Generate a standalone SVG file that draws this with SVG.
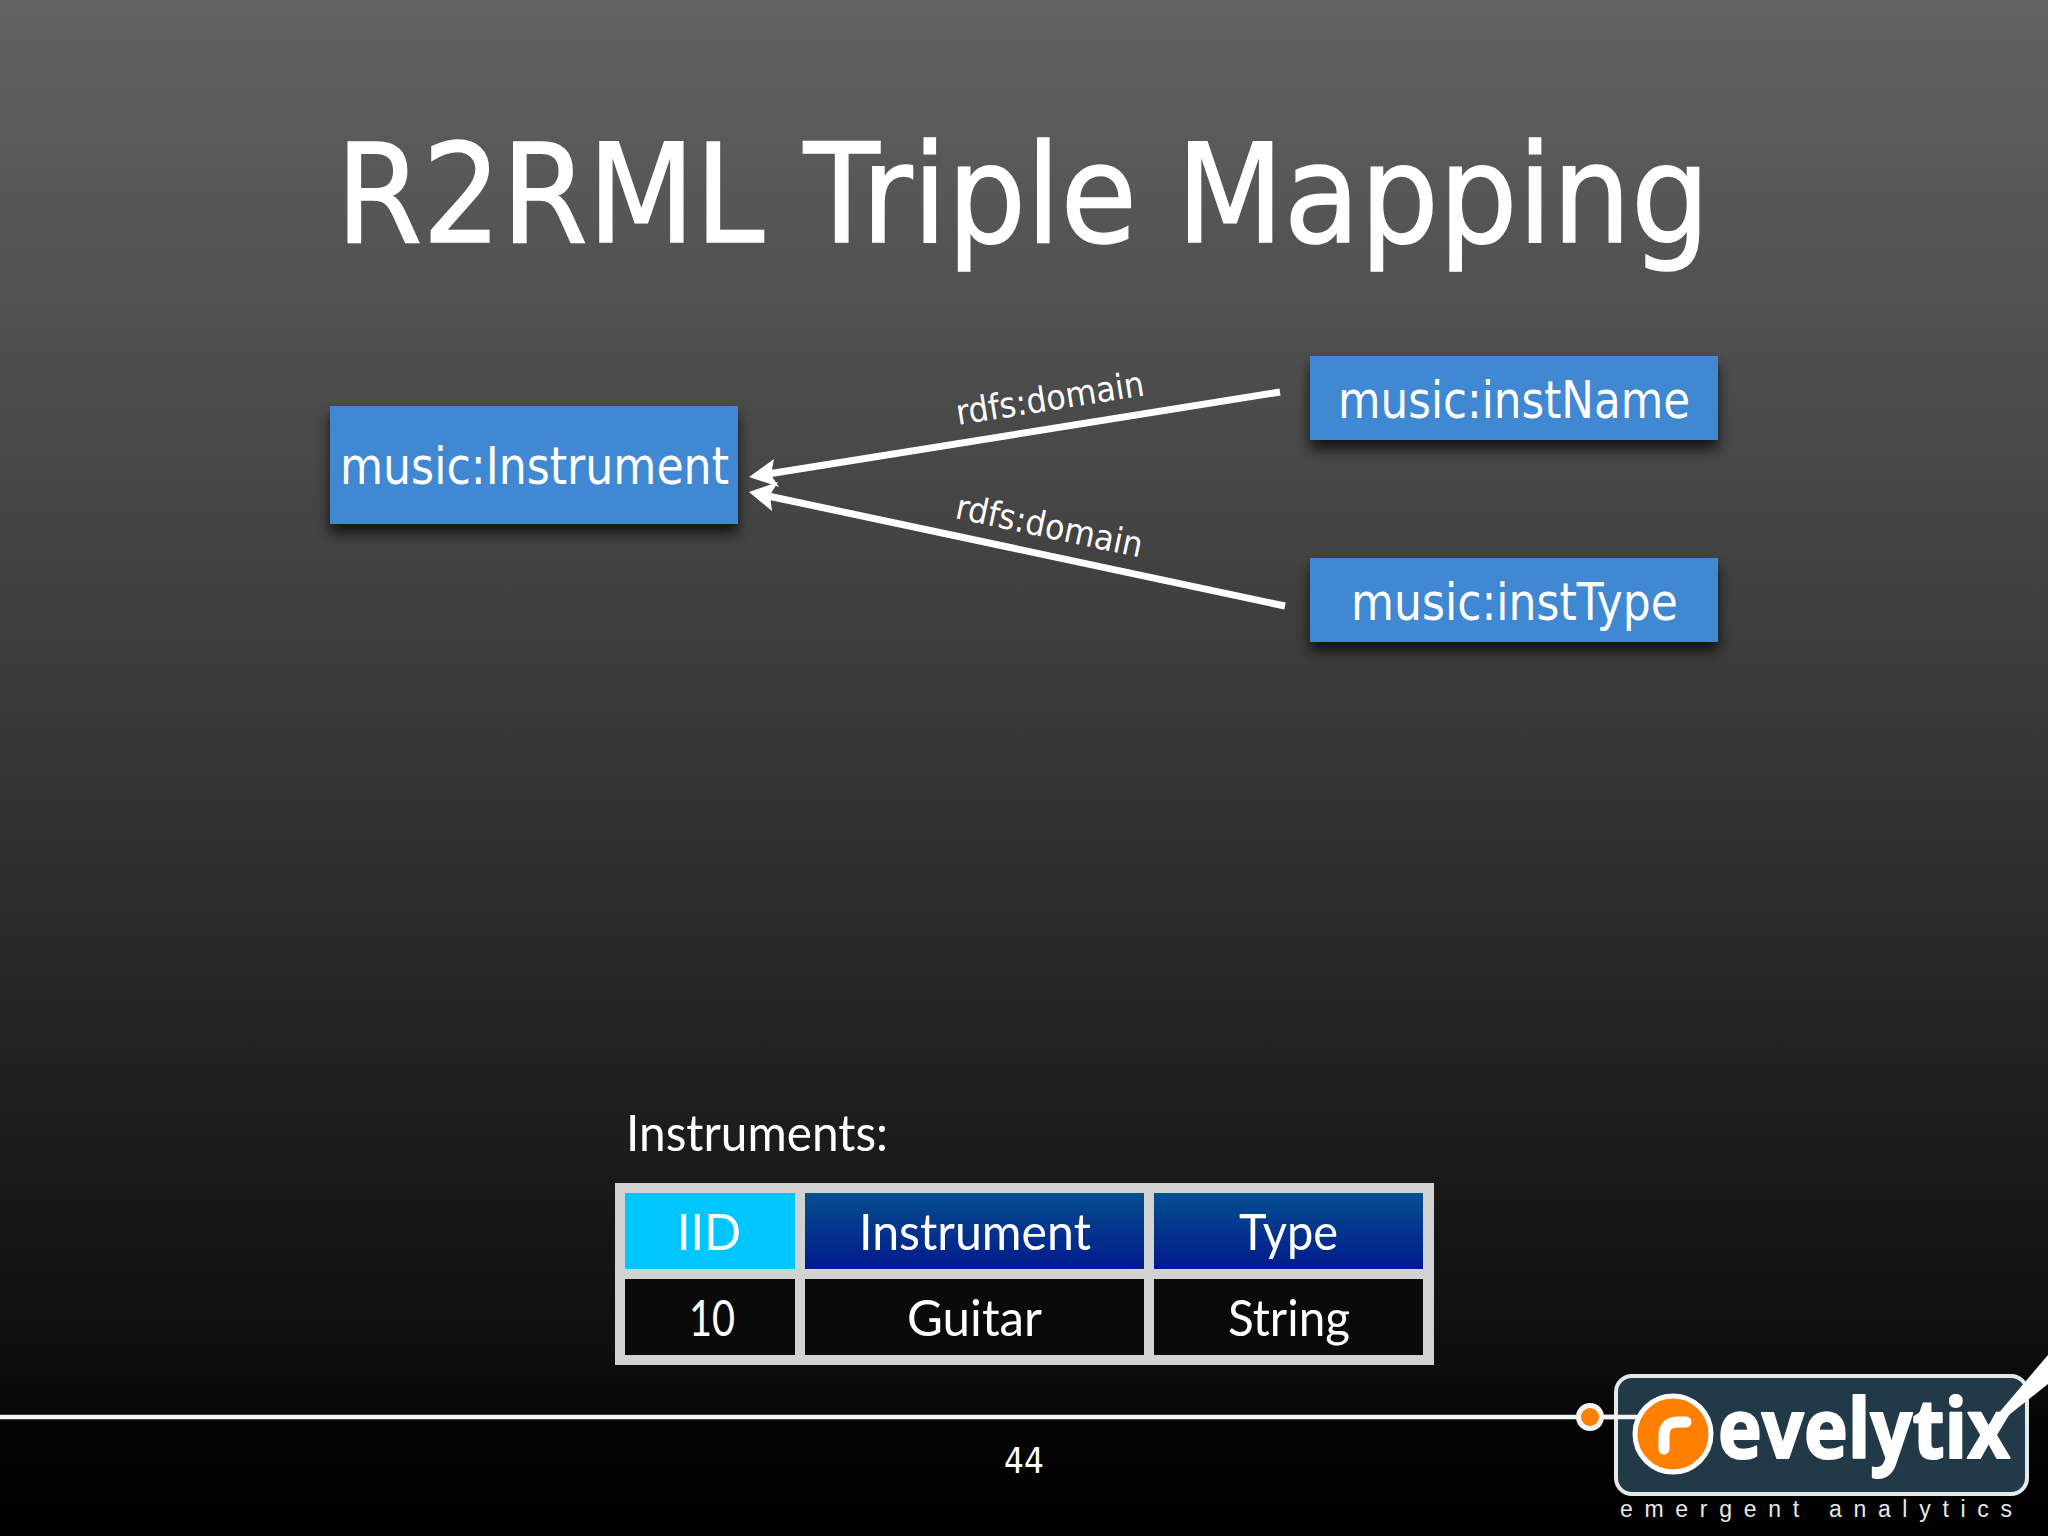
<svg xmlns="http://www.w3.org/2000/svg" width="2048" height="1536" viewBox="0 0 2048 1536">
<style>
.luc{font-family:"DejaVu Sans","Liberation Sans",sans-serif;fill:#fff}
.gill{font-family:"Lato","Liberation Sans",sans-serif;fill:#fff;font-size:50px}
.box{fill:#3f88d2;filter:url(#shadow)}
.cell{fill:#0a0a0a}
.hd{fill:url(#navy)}
.conn{stroke:#fff;stroke-width:7;fill:none}
.head{fill:#fff}
</style>
<defs>
<linearGradient id="bg" x1="0" y1="0" x2="0" y2="1"><stop offset="0" stop-color="#626262"/><stop offset="0.26" stop-color="#4b4b4b"/><stop offset="0.43" stop-color="#3c3c3c"/><stop offset="0.72" stop-color="#1e1e1e"/><stop offset="0.89" stop-color="#0d0d0d"/><stop offset="0.93" stop-color="#040404"/><stop offset="1" stop-color="#000"/></linearGradient>
<linearGradient id="navy" x1="0" y1="0" x2="0" y2="1"><stop offset="0" stop-color="#064f8e"/><stop offset="1" stop-color="#001a8c"/></linearGradient>
<filter id="shadow" x="-10%" y="-30%" width="120%" height="170%"><feDropShadow dx="0" dy="9" stdDeviation="7" flood-color="#000" flood-opacity="0.75"/></filter>
</defs>
<rect width="2048" height="1536" fill="url(#bg)"/>
<text class="luc" x="336" y="242" font-size="138" stroke="#fff" stroke-width="1.5" textLength="1374" lengthAdjust="spacingAndGlyphs">R2RML Triple Mapping</text>
<g id="connectors">
<line class="conn" x1="1280" y1="392" x2="768" y2="474"/>
<polygon class="head" points="749,477 774,459 771,475 779,487"/>
<line class="conn" x1="1285" y1="606" x2="768" y2="496"/>
<polygon class="head" points="749,492 778,482 770,495 772,511"/>
<text class="luc" font-size="35" transform="translate(958,425) rotate(-9)" textLength="190" lengthAdjust="spacingAndGlyphs">rdfs:domain</text>
<text class="luc" font-size="35" transform="translate(954,518) rotate(12)" textLength="190" lengthAdjust="spacingAndGlyphs">rdfs:domain</text>
</g>
<g id="node-instrument">
<rect class="box" x="330" y="406" width="408" height="118"/>
<text class="luc" x="340" y="484" font-size="52" textLength="389" lengthAdjust="spacingAndGlyphs">music:Instrument</text>
</g>
<g id="node-instname">
<rect class="box" x="1310" y="356" width="408" height="84"/>
<text class="luc" x="1338" y="418" font-size="52" textLength="352" lengthAdjust="spacingAndGlyphs">music:instName</text>
</g>
<g id="node-insttype">
<rect class="box" x="1310" y="558" width="408" height="84"/>
<text class="luc" x="1351" y="620" font-size="52" textLength="327" lengthAdjust="spacingAndGlyphs">music:instType</text>
</g>
<g id="table">
<text class="gill" x="626" y="1151" textLength="262" lengthAdjust="spacingAndGlyphs">Instruments:</text>
<rect x="615" y="1183" width="819" height="182" fill="#d2d2d2"/>
<rect x="625" y="1193" width="170" height="76" fill="#00c6ff"/>
<rect class="hd" x="805" y="1193" width="339" height="76"/>
<rect class="hd" x="1154" y="1193" width="269" height="76"/>
<rect class="cell" x="625" y="1279" width="170" height="76"/>
<rect class="cell" x="805" y="1279" width="339" height="76"/>
<rect class="cell" x="1154" y="1279" width="269" height="76"/>
<text class="gill" x="677" y="1250" textLength="64" lengthAdjust="spacingAndGlyphs">IID</text>
<text class="gill" x="859" y="1250" textLength="232" lengthAdjust="spacingAndGlyphs">Instrument</text>
<text class="gill" x="1239" y="1250" textLength="99" lengthAdjust="spacingAndGlyphs">Type</text>
<text class="gill" x="689" y="1336" textLength="46" lengthAdjust="spacingAndGlyphs">10</text>
<text class="gill" x="907" y="1336" textLength="135" lengthAdjust="spacingAndGlyphs">Guitar</text>
<text class="gill" x="1228" y="1336" textLength="122" lengthAdjust="spacingAndGlyphs">String</text>
</g>
<g id="footer">
<line x1="0" y1="1417" x2="1640" y2="1417" stroke="#f4f4f4" stroke-width="4.5"/>
<text class="luc" x="1004" y="1473" font-size="35" textLength="40" lengthAdjust="spacingAndGlyphs">44</text>
</g>
<g id="logo">
<rect x="1616" y="1376" width="411" height="118" rx="16" fill="#223a47" stroke="#e8e8e8" stroke-width="4"/>
<circle cx="1590" cy="1417" r="11.5" fill="#ff8000" stroke="#f4f4f4" stroke-width="5"/>
<line x1="1604" y1="1417" x2="1640" y2="1417" stroke="#f4f4f4" stroke-width="4.5"/>
<circle cx="1673" cy="1434" r="38" fill="#ff8000" stroke="#fff" stroke-width="5"/>
<path d="M1664,1449V1436Q1664,1422 1678,1422H1686" fill="none" stroke="#fff" stroke-width="11" stroke-linecap="round"/>
<text x="1718" y="1458" font-family="'Open Sans','Liberation Sans',sans-serif" font-weight="700" font-size="82" fill="#fff" stroke="#fff" stroke-width="2" stroke-linejoin="round" textLength="292" lengthAdjust="spacingAndGlyphs">evelytix</text>
<polygon points="2048,1355 2048,1384 1990,1430 1986,1428" fill="#fff"/>
<text x="1620" y="1517" font-family="'Liberation Sans',Arial,sans-serif" font-size="23" fill="#e8e8e8" textLength="392" lengthAdjust="spacing">emergent analytics</text>
</g>
</svg>
